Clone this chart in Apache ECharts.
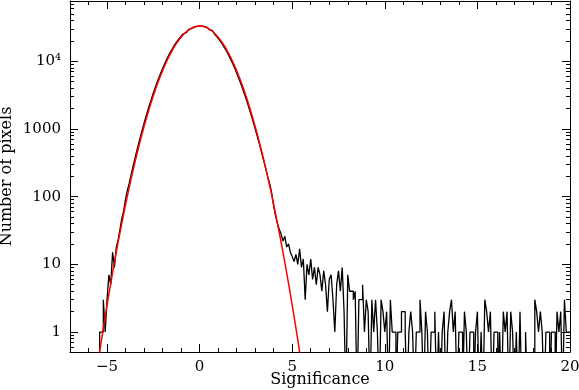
<!DOCTYPE html>
<html>
<head>
<meta charset="utf-8">
<script src="https://cdn.jsdelivr.net/npm/echarts@6/dist/echarts.min.js"></script>
<style>
html, body { margin: 0; padding: 0; background: #fff; }
#chart { width: 579px; height: 390px; }
</style>
</head>
<body>
<div id="chart"></div>
<script>
// histogram of pixel significance, bins of 0.1 starting at -5.6
const binStart = -5.6;
const binWidth = 0.1;
const counts = [
  0, 0, 1, 1, 3, 1, 3, 7, 5, 15,
  9, 18, 23, 33, 48, 62, 92, 125, 158, 210,
  276, 360, 466, 599, 764, 966, 1213, 1514, 1872, 2297,
  2799, 3388, 4066, 4840, 5715, 6710, 7813, 9022, 10340, 11790,
  13310, 14900, 16560, 18290, 20030, 21780, 23500, 25180, 26740, 28200,
  29510, 30660, 31630, 32340, 32840, 33080, 33080, 32840, 32340, 31630,
  30660, 29510, 28200, 26740, 25180, 23500, 21780, 20030, 18290, 16560,
  14900, 13310, 11790, 10340, 9022, 7813, 6710, 5715, 4840, 4066,
  3388, 2830, 2330, 1900, 1545, 1250, 1005, 800, 640, 505,
  395, 310, 240, 185, 150, 110, 72, 52, 40, 33,
  28, 22, 26, 18, 20, 15, 13, 11, 14, 10,
  17, 9, 12, 3, 10, 7, 12, 6, 9, 5,
  9, 7, 4, 8, 5, 2, 6, 7, 3, 1,
  5, 8, 4, 9, 2, 0, 7, 4, 4, 3,
  4, 0, 3, 3, 5, 1, 3, 2, 0, 3,
  1, 3, 1, 0, 3, 2, 1, 2, 0, 3,
  1, 1, 0, 1, 1, 2, 2, 1, 0, 1,
  2, 1, 0, 1, 1, 3, 1, 0, 2, 1,
  0, 1, 1, 2, 0, 1, 0, 1, 2, 0,
  1, 2, 3, 1, 2, 0, 1, 1, 0, 2,
  1, 0, 1, 1, 0, 1, 2, 0, 1, 0,
  3, 2, 1, 2, 0, 1, 1, 0, 1, 0,
  2, 1, 2, 0, 2, 1, 0, 1, 0, 2,
  0, 0, 1, 0, 0, 0, 0, 3, 2, 1,
  2, 1, 0, 1, 1, 0, 1, 1, 0, 2,
  1, 2, 0, 3, 1, 1
];

// gaussian fit (red curve)
const fitX = [-5.5, -5.25, -5, -4.75, -4.5, -4.25, -4, -3.75, -3.5, -3.25, -3, -2.75, -2.5, -2.25,
  -2, -1.75, -1.5, -1.25, -1, -0.75, -0.5, -0.25, 0, 0.25, 0.5, 0.75, 1, 1.25, 1.5, 1.75,
  2, 2.25, 2.5, 2.75, 3, 3.25, 3.5, 3.75, 4, 4.25, 4.5, 4.75, 5, 5.25, 5.5];
const fitY = [0.338, 0.938, 2.48, 6.27, 15.1, 34.65, 75.9, 158.3, 315.3, 598.7, 1084, 1872, 3082, 4837,
  7244, 10340, 14080, 18290, 22650, 26740, 30110, 32340, 33110, 32340, 30110, 26740, 22650, 18290, 14080, 10340,
  7244, 4837, 3082, 1872, 1084, 598.7, 315.3, 158.3, 75.9, 34.65, 15.1, 6.27, 2.48, 0.938, 0.338];

const xMin = -7, xMax = 20;
const xMajorTicks = [-5, 0, 5, 10, 15, 20];
const xMinorTicks = [-7, -6, -5, -4, -3, -2, -1, 0, 1, 2, 3, 4, 5, 6, 7, 8, 9, 10,
  11, 12, 13, 14, 15, 16, 17, 18, 19, 20];
const yMin = 0.507, yMax = 77500;
const yMajorTicks = [1, 10, 100, 1000, 10000];
const yTickLabels = ['1', '10', '100', '1000', '10⁴'];
const yMinorTicks = [0.6, 0.7, 0.8, 0.9, 2, 3, 4, 5, 6, 7, 8, 9, 20, 30, 40, 50, 60, 70, 80, 90,
  200, 300, 400, 500, 600, 700, 800, 900, 2000, 3000, 4000, 5000, 6000, 7000, 8000, 9000,
  20000, 30000, 40000, 50000, 60000, 70000];

const font = 'DejaVu Serif';
const zeroFloor = 0.1; // empty bins drop below the bottom of the plot

const histData = counts.map((c, i) => [+(binStart + i * binWidth).toFixed(2), c > 0 ? c : zeroFloor]);
histData.push([+(binStart + counts.length * binWidth).toFixed(2), counts[counts.length - 1]]);
const fitData = fitX.map((x, i) => [x, fitY[i]]);

const lin = v => Math.log10(v);

function xAxisDef(pos, major, withLabels) {
  return {
    type: 'value', position: pos, min: xMin, max: xMax,
    axisLine: { show: major, onZero: false, lineStyle: { color: '#000', width: 1 } },
    axisTick: { show: true, inside: true, length: major ? 8 : 4, lineStyle: { color: '#000' },
      customValues: major ? xMajorTicks : xMinorTicks },
    axisLabel: { show: withLabels, customValues: xMajorTicks, margin: 8, color: '#000',
      fontFamily: font, fontSize: 15, formatter: v => String(v).replace('-', '\u2212') },
    splitLine: { show: false }
  };
}

function yAxisDef(pos, major, withLabels) {
  return {
    type: 'value', position: pos, min: lin(yMin), max: lin(yMax),
    axisLine: { show: major, onZero: false, lineStyle: { color: '#000', width: 1 } },
    axisTick: { show: true, inside: true, length: major ? 8 : 4, lineStyle: { color: '#000' },
      customValues: (major ? yMajorTicks : yMinorTicks).map(lin) },
    axisLabel: { show: withLabels, customValues: yMajorTicks.map(lin), margin: 9, color: '#000',
      fontFamily: font, fontSize: 15,
      formatter: v => {
        const i = yMajorTicks.findIndex(t => Math.abs(lin(t) - v) < 1e-6);
        return i >= 0 ? yTickLabels[i] : '';
      } },
    splitLine: { show: false }
  };
}

const chart = echarts.init(document.getElementById('chart'));
const bottomAxis = xAxisDef('bottom', true, true);
bottomAxis.name = 'Significance';
bottomAxis.nameLocation = 'middle';
bottomAxis.nameGap = 20;
bottomAxis.nameMoveOverlap = false;
bottomAxis.nameTextStyle = { color: '#000', fontFamily: font, fontSize: 16, verticalAlign: 'top' };

const leftAxis = yAxisDef('left', true, true);
leftAxis.name = 'Number of pixels';
leftAxis.nameLocation = 'middle';
leftAxis.nameRotate = 90;
leftAxis.nameGap = 63;
leftAxis.nameMoveOverlap = false;
leftAxis.nameTextStyle = { color: '#000', fontFamily: font, fontSize: 16, verticalAlign: 'middle' };

chart.setOption({
  animation: false,
  backgroundColor: '#fff',
  grid: { left: 70, right: 9, top: 1, bottom: 38, outerBoundsMode: 'none' },
  xAxis: [
    bottomAxis,
    xAxisDef('bottom', false, false),
    xAxisDef('top', true, false),
    xAxisDef('top', false, false)
  ],
  yAxis: [
    { type: 'log', logBase: 10, min: yMin, max: yMax, position: 'left',
      axisLine: { show: false, onZero: false }, axisTick: { show: false }, axisLabel: { show: false },
      splitLine: { show: false } },
    leftAxis,
    yAxisDef('left', false, false),
    yAxisDef('right', true, false),
    yAxisDef('right', false, false)
  ],
  series: [
    {
      name: 'histogram', type: 'line', step: 'end', xAxisIndex: 0, yAxisIndex: 0,
      data: histData, symbol: 'none', clip: true,
      lineStyle: { color: '#000', width: 1.3 }
    },
    {
      name: 'fit', type: 'line', smooth: true, xAxisIndex: 0, yAxisIndex: 0,
      data: fitData, symbol: 'none', clip: true,
      lineStyle: { color: '#ff0000', width: 1.5 }
    }
  ]
});
</script>
</body>
</html>
